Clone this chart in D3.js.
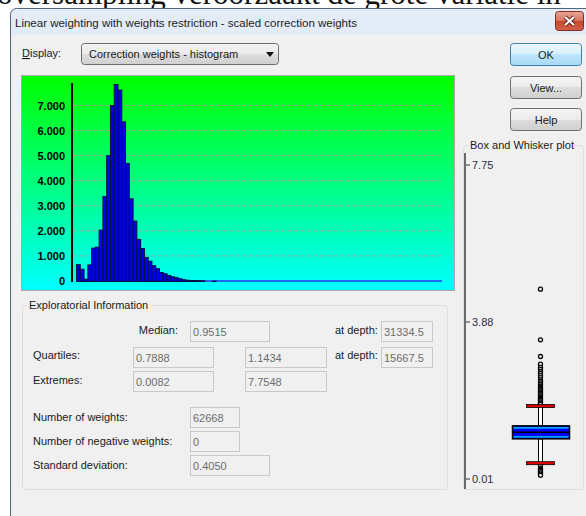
<!DOCTYPE html>
<html>
<head>
<meta charset="utf-8">
<script src="https://cdn.jsdelivr.net/npm/d3@7"></script>
<style>
  body { margin: 0; background: #ffffff; }
  svg { display: block; font-family: "Liberation Sans", Arial, sans-serif; }
</style>
</head>
<body>
<div id="chart"></div>
<script>
// histogram: counts per bin (bin width 0.08, 97 bins, rest are 0)
const binWidth = 0.08;
const binTotal = 97;
const binCounts = [670, 490, 90, 660, 1330, 1370, 2050, 3390, 5020, 7020, 7860, 7640, 6370, 4710, 3300, 2410, 1680,
  1310, 960, 810, 630, 510, 360, 310, 240, 190, 150, 110, 70, 50, 40, 35, 30, 25, 0, 0, 12];
const yTicks = [0, 1000, 2000, 3000, 4000, 5000, 6000, 7000];

// box and whisker plot, values read in axis units
const boxTicks = [7.75, 3.88, 0.01];
const boxValues = [0.40, 1.00, 1.16, 1.32, 1.81]; // lower cap, q1, median, q3, upper cap
const upperOutliers = [4.69, 3.44, 3.03, 2.84, 2.76, 2.71, 2.66, 2.61, 2.56, 2.51, 2.46, 2.42, 2.38, 2.34, 2.30,
  2.27, 2.24, 2.21, 2.18, 2.15, 2.12, 2.09, 2.06, 2.03, 2.00, 1.97, 1.94, 1.91, 1.88, 1.85];
const lowerOutliers = [0.37, 0.34, 0.28, 0.25, 0.22, 0.19, 0.16, 0.13, 0.10];

// exploratorial information
const statRows = ["Median:", "Quartiles:", "Extremes:"];
const medianValues = ["0.9515", "31334.5"];
const quartileValues = ["0.7888", "1.1434", "15667.5"];
const extremeValues = ["0.0082", "7.7548"];
const countLabels = ["Number of weights:", "Number of negative weights:", "Standard deviation:"];
const countValues = ["62668", "0", "0.4050"];

const W = 586, H = 516;
const svg = d3.select("#chart").append("svg").attr("width", W).attr("height", H);
const defs = svg.append("defs");

function grad(id, stops) {
  const g = defs.append("linearGradient").attr("id", id).attr("x1", 0).attr("y1", 0).attr("x2", 0).attr("y2", 1);
  stops.forEach(s => g.append("stop").attr("offset", s[0]).attr("stop-color", s[1]));
}
grad("histGrad", [[0, "#00ff00"], [1, "#00ffff"]]);
grad("titleGrad", [[0, "#e3ecf7"], [1, "#cfdcec"]]);
grad("btnGrad", [[0, "#f4f4f4"], [0.5, "#ebebeb"], [0.5, "#dddddd"], [1, "#cfcfcf"]]);
grad("okGrad", [[0, "#eaf6fd"], [0.5, "#d9f0fc"], [0.5, "#bee6fd"], [1, "#a7d9f5"]]);
grad("closeGrad", [[0, "#e9a99b"], [0.5, "#d8705c"], [0.5, "#c7452d"], [1, "#d1634a"]]);
grad("comboGrad", [[0, "#f2f2f2"], [0.5, "#ebebeb"], [0.5, "#dddddd"], [1, "#cfcfcf"]]);

// page text behind the window (partly hidden by it)
svg.append("text").attr("x", -3).attr("y", 4)
  .style("font-family", "'Liberation Serif', serif").style("font-size", "31px").attr("fill", "#111")
  .text("oversampling veroorzaakt de grote variatie in");

// window
svg.append("rect").attr("x", 10.5).attr("y", 8.5).attr("width", 600).attr("height", 520).attr("rx", 6)
  .attr("fill", "url(#titleGrad)").attr("stroke", "#50647c");
svg.append("rect").attr("x", 11).attr("y", 35).attr("width", 600).attr("height", 500).attr("fill", "#f0f0f0");
svg.append("text").attr("x", 15).attr("y", 27).attr("font-size", "11.5px").attr("fill", "#1e1e1e")
  .text("Linear weighting with weights restriction - scaled correction weights");

// close button
const close = svg.append("g");
close.append("rect").attr("x", 555.5).attr("y", 11.5).attr("width", 28).attr("height", 19).attr("rx", 3)
  .attr("fill", "url(#closeGrad)").attr("stroke", "#7d2f22");
close.append("path").attr("d", "M565,17 L574,25 M574,17 L565,25")
  .attr("stroke", "#5a1e14").attr("stroke-width", 4);
close.append("path").attr("d", "M565,17 L574,25 M574,17 L565,25")
  .attr("stroke", "#ffffff").attr("stroke-width", 2.2);

// display combo
const disp = svg.append("text").attr("x", 22).attr("y", 57).attr("font-size", "11px").attr("fill", "#1a1a1a");
disp.append("tspan").attr("text-decoration", "underline").text("D");
disp.append("tspan").text("isplay:");
svg.append("rect").attr("x", 81.5).attr("y", 43.5).attr("width", 197).attr("height", 21).attr("rx", 3)
  .attr("fill", "url(#comboGrad)").attr("stroke", "#707070");
svg.append("text").attr("x", 89).attr("y", 58).attr("font-size", "11px").attr("fill", "#1a1a1a")
  .text("Correction weights - histogram");
svg.append("path").attr("d", "M266,52 L274,52 L270,57 Z").attr("fill", "#111");

// buttons
const buttons = [["OK", 43], ["View...", 76], ["Help", 108]];
buttons.forEach((b, i) => {
  svg.append("rect").attr("x", 510.5).attr("y", b[1] + 0.5).attr("width", 71).attr("height", 22).attr("rx", 3)
    .attr("fill", i === 0 ? "url(#okGrad)" : "url(#btnGrad)").attr("stroke", i === 0 ? "#3c7fb1" : "#707070");
  svg.append("text").attr("x", 546).attr("y", b[1] + 16).attr("text-anchor", "middle")
    .attr("font-size", "11px").attr("fill", "#1a1a1a").text(b[0]);
});

// histogram panel
svg.append("rect").attr("x", 21.5).attr("y", 75.5).attr("width", 433).attr("height", 215)
  .attr("fill", "url(#histGrad)").attr("stroke", "#a9a9a9");

const x = d3.scaleLinear().domain([0, binWidth * binTotal]).range([76, 442]);
const y = d3.scaleLinear().domain([0, 7900]).range([281, 83]);
const nl = d3.formatLocale({ decimal: ",", thousands: ".", grouping: [3], currency: ["€", ""] });

const yAxis = d3.axisLeft(y).tickValues(yTicks).tickFormat(nl.format(",d")).tickSize(0).tickPadding(7);
const yg = svg.append("g").attr("transform", "translate(72,0)").call(yAxis);
yg.select(".domain").remove();
yg.selectAll("text").attr("font-size", "11px").attr("fill", "#000").attr("font-weight", "600")
  .style("font-family", "'Liberation Sans', Arial, sans-serif");

svg.append("g").selectAll("line").data(yTicks.slice(1)).join("line")
  .attr("x1", 73).attr("x2", 442).attr("y1", d => y(d)).attr("y2", d => y(d))
  .attr("stroke", "#a0a0a0").attr("stroke-dasharray", "4,2.5");

// x baseline
svg.append("line").attr("x1", x(0)).attr("x2", x(binWidth * binTotal)).attr("y1", 281).attr("y2", 281)
  .attr("stroke", "#1d6cf0").attr("stroke-width", 2);

svg.append("g").selectAll("rect").data(binCounts).join("rect")
  .attr("x", (d, i) => x(i * binWidth) + 0.5)
  .attr("width", x(binWidth) - x(0))
  .attr("y", d => y(d) + 0.5)
  .attr("height", d => Math.max(0, y(0) - y(d)))
  .attr("fill", "#0000e8").attr("stroke", "#00103a").attr("stroke-width", 1);

// y axis line
svg.append("line").attr("x1", 72).attr("x2", 72).attr("y1", y(7900)).attr("y2", y(0) + 1)
  .attr("stroke", "#000").attr("stroke-width", 2);

// group boxes
function groupBox(x0, y0, w, h, title, tw) {
  svg.append("rect").attr("x", x0 + 0.5).attr("y", y0 + 0.5).attr("width", w).attr("height", h).attr("rx", 3)
    .attr("fill", "none").attr("stroke", "#d5dfe5");
  svg.append("rect").attr("x", x0 + 5).attr("y", y0 - 7).attr("width", tw).attr("height", 14).attr("fill", "#f0f0f0");
  svg.append("text").attr("x", x0 + 7).attr("y", y0 + 4).attr("font-size", "11px").attr("fill", "#1a1a1a").text(title);
}
groupBox(22, 305, 425, 184, "Exploratorial Information", 124);
groupBox(463, 145, 120, 344, "Box and Whisker plot", 106);

// stat fields
function label(txt, xx, yy, anchor) {
  svg.append("text").attr("x", xx).attr("y", yy).attr("font-size", "11px").attr("fill", "#1a1a1a")
    .attr("text-anchor", anchor || "start").text(txt);
}
function field(txt, x0, y0, w) {
  svg.append("rect").attr("x", x0 + 0.5).attr("y", y0 + 0.5).attr("width", w).attr("height", 20)
    .attr("fill", "#f0f0f0").attr("stroke", "#c9c9c9");
  svg.append("text").attr("x", x0 + 3).attr("y", y0 + 15).attr("font-size", "11px").attr("fill", "#6d6d6d").text(txt);
}
label(statRows[0], 178, 334, "end");
field(medianValues[0], 190, 321, 79);
label("at depth:", 335, 334);
field(medianValues[1], 381, 321, 51);
label(statRows[1], 33, 359);
field(quartileValues[0], 133, 347, 80);
field(quartileValues[1], 245, 347, 81);
label("at depth:", 335, 359);
field(quartileValues[2], 381, 347, 51);
label(statRows[2], 33, 384);
field(extremeValues[0], 133, 371, 80);
field(extremeValues[1], 245, 371, 81);
countLabels.forEach((c, i) => {
  const yy = [407, 431, 455][i];
  label(c, 33, yy + 14);
  field(countValues[i], 190, yy, i === 2 ? 79 : 49);
});

// box and whisker plot
const by = d3.scaleLinear().domain([0.01, 7.75]).range([479, 165]);
const cx = 540.5;
svg.append("line").attr("x1", 465).attr("x2", 465).attr("y1", 153).attr("y2", 489)
  .attr("stroke", "#6a6a6a").attr("stroke-width", 2);
const bt = svg.append("g").selectAll("g").data(boxTicks).join("g")
  .attr("transform", d => `translate(0,${by(d)})`);
bt.append("line").attr("x1", 466).attr("x2", 470).attr("stroke", "#333");
bt.append("text").attr("x", 472).attr("y", 4).attr("font-size", "11px").attr("fill", "#2d2d44")
  .text(d => d.toFixed(2));

// whiskers
[[boxValues[0], boxValues[1]], [boxValues[3], boxValues[4]]].forEach(p => {
  svg.append("rect").attr("x", cx - 2).attr("width", 4).attr("y", by(p[1])).attr("height", by(p[0]) - by(p[1]))
    .attr("fill", "#ffffff").attr("stroke", "#000").attr("stroke-width", 1);
});
// outliers
svg.append("g").selectAll("circle").data(upperOutliers.concat(lowerOutliers)).join("circle")
  .attr("cx", cx).attr("cy", d => by(d)).attr("r", 2)
  .attr("fill", "#ffffff").attr("stroke", "#000").attr("stroke-width", 1.3);
// caps
[boxValues[0], boxValues[4]].forEach(v => {
  svg.append("rect").attr("x", 526.5).attr("y", by(v) - 1.5).attr("width", 28).attr("height", 3)
    .attr("fill", "#e00000").attr("stroke", "#000").attr("stroke-width", 0.8);
});
// box
svg.append("rect").attr("x", 512.5).attr("y", by(boxValues[3])).attr("width", 57)
  .attr("height", by(boxValues[1]) - by(boxValues[3]))
  .attr("fill", "#0000ff").attr("stroke", "#000").attr("stroke-width", 1.5);
[boxValues[3], boxValues[1]].forEach((v, i) => {
  svg.append("line").attr("x1", 513.5).attr("x2", 568.5)
    .attr("y1", by(v) + (i ? -2 : 2)).attr("y2", by(v) + (i ? -2 : 2))
    .attr("stroke", "#00e5e5").attr("stroke-width", 1.3);
});
svg.append("line").attr("x1", 513).attr("x2", 569).attr("y1", by(boxValues[2])).attr("y2", by(boxValues[2]))
  .attr("stroke", "#000").attr("stroke-width", 1.5);
</script>
</body>
</html>
